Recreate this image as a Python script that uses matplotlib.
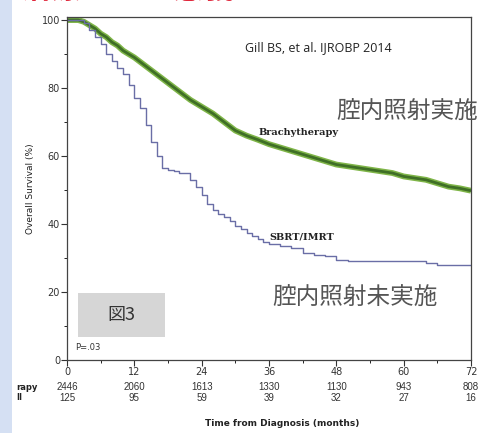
import matplotlib.pyplot as plt
from matplotlib.patches import Rectangle
from matplotlib.ticker import MultipleLocator

# ------------------------------
# DATA
# ------------------------------
brachy_t = [0, 2, 3, 4, 5, 6, 7, 8, 9, 10, 11, 12, 14, 16, 18, 20, 22, 24, 26, 28, 30, 32, 34, 36,
            38, 40, 42, 44, 46, 48, 50, 52, 54, 56, 58, 60, 62, 64, 66, 68, 70, 72]
brachy_s = [100, 100, 99.5, 98.5, 97.5, 96, 95, 93.5, 92.5, 91, 90, 89, 86.5, 84, 81.5, 79, 76.5, 74.5,
            72.5, 70, 67.5, 66, 64.8, 63.5, 62.5, 61.5, 60.5, 59.5, 58.5, 57.5, 57, 56.5, 56, 55.5,
            55, 54, 53.5, 53, 52, 51, 50.5, 49.8]

sbrt_t = [0, 2, 3, 4, 5, 6, 7, 8, 9, 10, 11, 12, 13, 14, 15, 16, 17, 18, 19, 20, 21, 22, 23, 24,
          25, 26, 27, 28, 29, 30, 31, 32, 33, 34, 35, 36, 38, 40, 42, 44, 46, 48, 50, 54, 58, 62,
          64, 66, 72]
sbrt_s = [100, 100, 99, 97, 95, 93, 90, 88, 86, 84, 81, 77, 74, 69, 64, 60, 56.5, 56, 55.5, 55, 55,
          53, 51, 48.5, 46, 44, 43, 42, 41, 39.5, 38.5, 37.5, 36.5, 35.5, 34.7, 34, 33.5, 33, 31.5,
          31, 30.5, 29.5, 29, 29, 29, 29, 28.5, 28, 28]

x_ticks = [0, 12, 24, 36, 48, 60, 72]
risk_brachy = ["2446", "2060", "1613", "1330", "1130", "943", "808"]
risk_sbrt = ["125", "95", "59", "39", "32", "27", "16"]
group_names = ["Brachytherapy", "SBRT/IMRT"]
group_cut = ["rapy", "ll"]   # what is left of the row labels at the slide edge

W, H = 489, 433
CJK = ["Noto Sans CJK JP", "DejaVu Sans"]


def fx(px):
    return px / W


def fy(py):
    return 1 - py / H


fig = plt.figure(figsize=(W / 100, H / 100), dpi=100)
ax = fig.add_axes([fx(67), fy(360), fx(471) - fx(67), fy(17) - fy(360)])

# curves
ax.plot(brachy_t, brachy_s, color="#7fb548", lw=4.2, solid_capstyle="butt")
ax.plot(brachy_t, brachy_s, color="#3f6f26", lw=2.0, solid_capstyle="butt")
ax.plot(sbrt_t, sbrt_s, color="#6a6ea6", lw=1.0, drawstyle="steps-post")

ax.set_xlim(0, 72)
ax.set_ylim(0, 100.9)
ax.set_xticks(x_ticks)
ax.set_yticks([0, 20, 40, 60, 80, 100])
ax.yaxis.set_minor_locator(MultipleLocator(10))
ax.xaxis.set_minor_locator(MultipleLocator(6))
ax.tick_params(labelsize=7, length=4, width=0.8, colors="#333333", pad=1)
ax.tick_params(which="minor", length=2, width=0.6)
for s in ax.spines.values():
    s.set_color("#444444")
    s.set_linewidth(0.9)

ax.set_ylabel("Overall Survival (%)", fontsize=6.5, labelpad=5, color="#222222")

# annotations inside the plot
ax.text(0.44, 0.91, "Gill BS, et al. IJROBP 2014", transform=ax.transAxes,
        fontsize=9, family="Open Sans", color="#222222", va="center")
ax.text(34.2, 66.8, group_names[0], fontsize=7, fontweight="bold",
        family="DejaVu Serif", color="#222222", va="center")
ax.text(36.0, 36.3, group_names[1], fontsize=7, fontweight="bold",
        family="DejaVu Serif", color="#222222", va="center")
fig.text(fx(407), fy(112), "腔内照射実施", family=CJK, fontsize=17,
         color="#555555", ha="center", va="center")
fig.text(fx(355), fy(298), "腔内照射未実施", family=CJK, fontsize=17,
         color="#555555", ha="center", va="center")

# gray "figure 3" box
fig.patches.append(Rectangle((fx(78), fy(337)), fx(165) - fx(78), fy(293) - fy(337),
                             transform=fig.transFigure, facecolor="#d6d6d6",
                             edgecolor="none", zorder=3))
fig.text(fx(121), fy(315), "図3", family=CJK, fontsize=13, color="#333333",
         ha="center", va="center", zorder=4)
fig.text(fx(75), fy(348), "P=.03", fontsize=6, color="#333333", va="center")

# number at risk table
for t, a, b in zip(x_ticks, risk_brachy, risk_sbrt):
    xp = 67 + t * (471 - 67) / 72
    fig.text(fx(xp), fy(387), a, fontsize=7, ha="center", va="center",
             family="Liberation Sans", color="#333333")
    fig.text(fx(xp), fy(398), b, fontsize=7, ha="center", va="center",
             family="Liberation Sans", color="#333333")
fig.text(fx(16), fy(387), group_cut[0], fontsize=6, fontweight="bold",
         ha="left", va="center", color="#222222")
fig.text(fx(16), fy(398), group_cut[1], fontsize=6, fontweight="bold",
         ha="left", va="center", color="#222222")
fig.text(fx(282), fy(424), "Time from Diagnosis (months)", fontsize=6.5,
         fontweight="bold", ha="center", va="center", color="#222222")

# slide remnants: red heading cut at the top and blue strip on the left
fig.text(fx(-10), fy(5), "の治療とその意義", family=CJK, fontsize=22,
         color="#e0283c", fontweight="bold", va="bottom")
fig.patches.append(Rectangle((0, 0), fx(12), 1, transform=fig.transFigure,
                             facecolor="#d5e0f3", edgecolor="none", zorder=10))

fig.savefig("out.png", dpi=100)
